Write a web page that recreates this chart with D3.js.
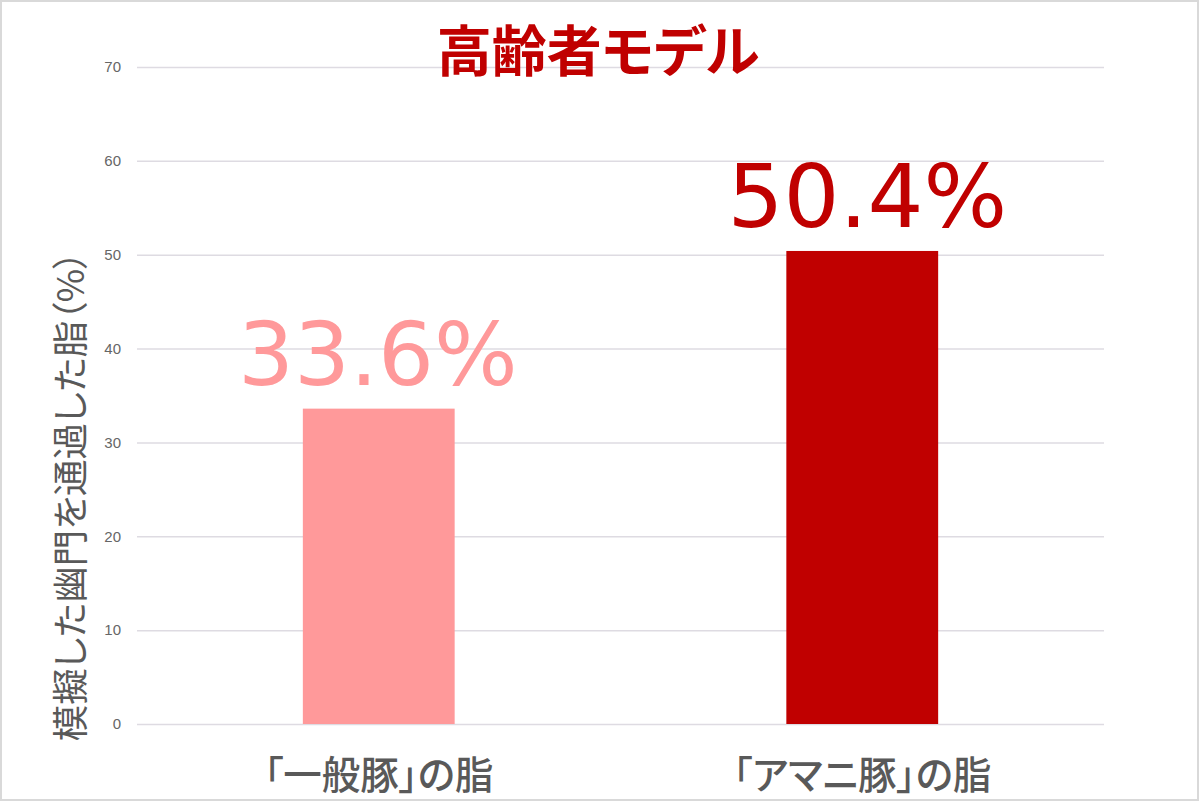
<!DOCTYPE html>
<html>
<head>
<meta charset="utf-8">
<script src="https://cdn.jsdelivr.net/npm/d3@7"></script>
<style>
  html, body { margin: 0; padding: 0; background: #fff; }
  svg { display: block; }
  .jp { font-feature-settings: "palt" 1; }
</style>
</head>
<body>
<div id="chart"></div>
<script>
// chart data
var categories = ['「一般豚」の脂', '「アマニ豚」の脂'];
var values = [33.6, 50.4];
var valueLabels = ['33.6%', '50.4%'];
var barColors = ['#ff999a', '#c00000'];
var yTicks = [0, 10, 20, 30, 40, 50, 60, 70];
var chartTitle = '高齢者モデル';
var yTitle = '模擬した幽門を通過した脂（%）';

var width = 1200,
  height = 802,
  margin = { top: 67, right: 96, bottom: 78, left: 137 };

var svg = d3.select('#chart')
  .append('svg')
  .attr('width', width)
  .attr('height', height);

// frame
svg.append('rect')
  .attr('x', 1).attr('y', 1)
  .attr('width', width - 3).attr('height', height - 3)
  .attr('fill', '#fff')
  .attr('stroke', '#d9d9d9')
  .attr('stroke-width', 2);

var x = d3.scaleBand()
  .domain(categories)
  .range([margin.left, width - margin.right])
  .paddingInner(0.686)
  .paddingOuter(0.343);

var y = d3.scaleLinear()
  .domain([0, 70])
  .range([height - margin.bottom, margin.top]);

// gridlines + tick labels
var yAxis = d3.axisLeft(y)
  .tickValues(yTicks)
  .tickSize(-(width - margin.left - margin.right))
  .tickPadding(16);

var gy = svg.append('g')
  .attr('transform', 'translate(' + margin.left + ',0)')
  .call(yAxis);
gy.select('.domain').remove();
gy.selectAll('.tick line')
  .attr('stroke', '#dedbe2')
  .attr('stroke-width', 1.5);
gy.selectAll('.tick text')
  .attr('fill', '#666')
  .attr('font-family', '"Liberation Sans", Arial, sans-serif')
  .attr('font-size', '15px');

// bars
svg.selectAll('rect.bar')
  .data(values).enter()
  .append('rect')
  .attr('class', 'bar')
  .attr('x', function(d, i) { return x(categories[i]); })
  .attr('y', function(d) { return y(d); })
  .attr('width', x.bandwidth())
  .attr('height', function(d) { return y(0) - y(d); })
  .attr('fill', function(d, i) { return barColors[i]; });

// value labels
svg.selectAll('text.value')
  .data(values).enter()
  .append('text')
  .attr('class', 'value')
  .attr('x', function(d, i) { return x(categories[i]) + x.bandwidth() / 2 + (i ? 5 : -1); })
  .attr('y', function(d) { return y(d) - 24; })
  .attr('text-anchor', 'middle')
  .attr('font-family', '"DejaVu Sans", sans-serif')
  .attr('font-size', '88px')
  .attr('fill', function(d, i) { return barColors[i]; })
  .text(function(d, i) { return valueLabels[i]; });

// category labels
svg.selectAll('text.cat')
  .data(categories).enter()
  .append('text')
  .attr('class', 'cat jp')
  .attr('x', function(d) { return x(d) + x.bandwidth() / 2; })
  .attr('y', 789)
  .attr('text-anchor', 'middle')
  .attr('font-family', '"Noto Sans CJK JP", sans-serif')
  .attr('font-weight', 500)
  .attr('font-size', '38.5px')
  .attr('fill', '#595959')
  .text(function(d) { return d; });

// title
svg.append('text')
  .attr('class', 'jp')
  .attr('x', 598)
  .attr('y', 71)
  .attr('text-anchor', 'middle')
  .attr('font-family', '"Noto Sans CJK JP", sans-serif')
  .attr('font-weight', 'bold')
  .attr('font-size', '55px')
  .attr('fill', '#c00000')
  .text(chartTitle);

// y axis title
svg.append('text')
  .attr('class', 'jp')
  .attr('transform', 'translate(68,496) rotate(-90)')
  .attr('text-anchor', 'middle')
  .attr('dominant-baseline', 'central')
  .attr('font-family', '"Noto Sans CJK JP", sans-serif')
  .attr('font-size', '36.5px')
  .attr('fill', '#595959')
  .text(yTitle);
</script>
</body>
</html>
